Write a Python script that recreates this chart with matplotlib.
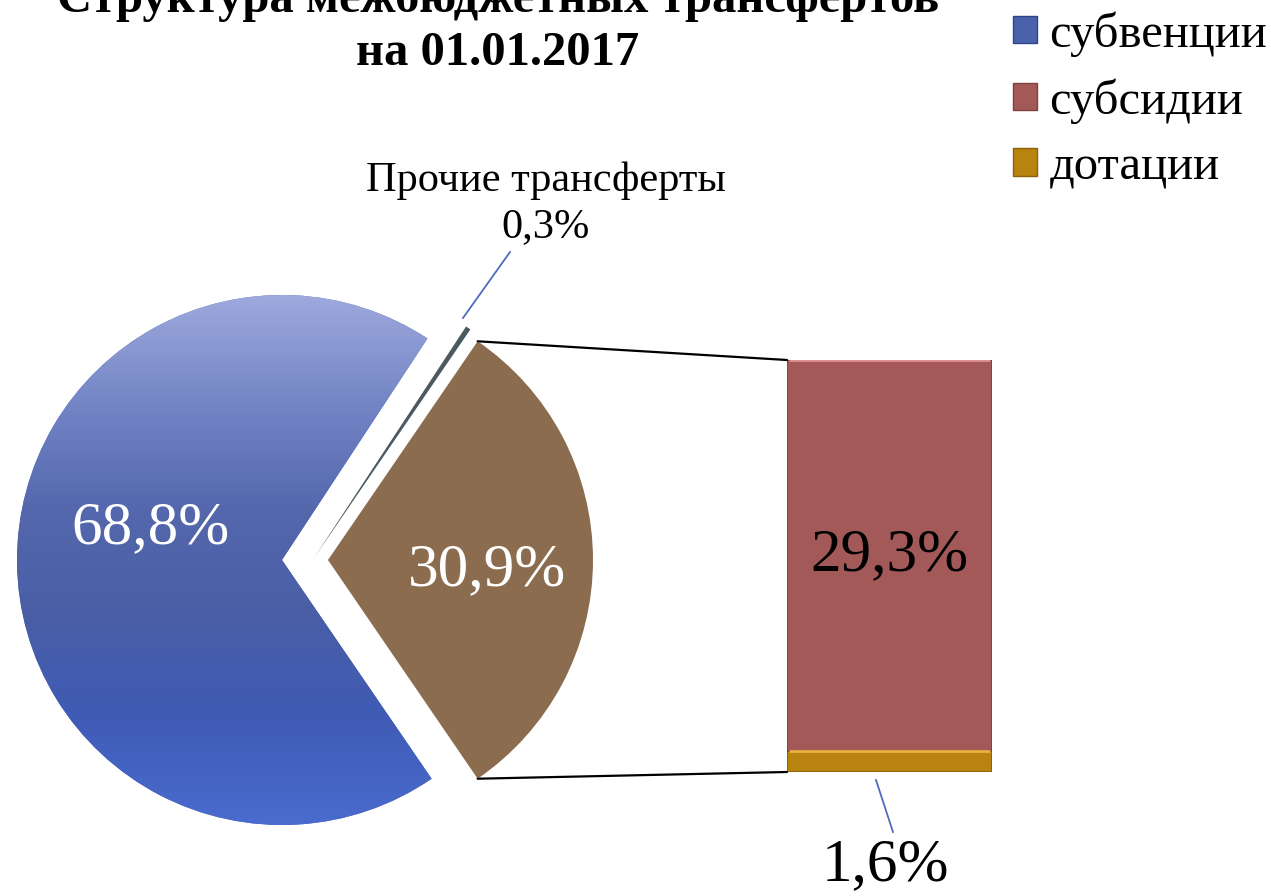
import matplotlib
matplotlib.use("Agg")
from matplotlib import pyplot as plt
from matplotlib.patches import Patch, ConnectionPatch
from matplotlib.colors import LinearSegmentedColormap
import numpy as np

plt.rcParams['font.family'] = ['Liberation Serif', 'DejaVu Serif']

# data
pie_labels = ['другие', 'Прочие трансферты', 'субвенции']
pie_values = [30.9, 0.3, 68.8]
bar_labels = ['дотации', 'субсидии']
bar_values = [1.6, 29.3]
legend_labels = ['субвенции', 'субсидии', 'дотации']

title_line1 = 'Структура межбюджетных трансфертов'
title_line2 = 'на 01.01.2017'


def pct(v):
    return f"{v:.1f}%".replace('.', ',')


W, H = 1271, 896
fig = plt.figure(figsize=(W / 100, H / 100), dpi=100)
ax = fig.add_axes([0, 0, 1, 1])

cx, cy, r = 282, 336, 265
start = -pie_values[0] / 100 * 360 / 2
wedges, _ = ax.pie(pie_values, startangle=start, counterclock=True,
                   explode=[46, 0, 0], radius=r, center=(cx, cy),
                   colors=['#8b6c4e', '#4b5a62', '#5a6fb8'],
                   wedgeprops=dict(linewidth=0), frame=True)
# the small slice is pulled out sideways, between the blue and brown slices
wedges[1].set_center((cx + 32, cy + 2))
wedges[1].set_radius(r + 12)

# vertical gradient on the blue slice (light at top, dark lower down)
cmap = LinearSegmentedColormap.from_list(
    'bl', ['#9ea9dd', '#7486c6', '#5568ad', '#4a5ea6', '#3f5bb5', '#4a6ccf'])
grad = np.linspace(0, 1, 256).reshape(-1, 1)
img = ax.imshow(grad, cmap=cmap, extent=[cx - r, cx + r, cy - r, cy + r],
                origin='upper', aspect='auto', zorder=wedges[2].get_zorder() + 0.1)
img.set_clip_path(wedges[2])

ax.set_xlim(0, W)
ax.set_ylim(0, H)
ax.set_aspect('equal')
ax.axis('off')

# slice labels
ax.text(150, H - 528, pct(pie_values[2]), color='white', fontsize=44,
        ha='center', va='center', zorder=5)
ax.text(487, H - 570, pct(pie_values[0]), color='white', fontsize=44,
        ha='center', va='center', zorder=5)
ax.text(546, H - 204, pie_labels[1] + '\n' + pct(pie_values[1]),
        fontsize=30.5, ha='center', va='center', linespacing=1.25, zorder=5)
ax.plot([463, 510], [H - 318, H - 252], color='#4f6bbd', lw=1.3)

# bar of the "other" slice
bx0, bx1, by0, by1 = 787, 992, H - 772, H - 360
bax = fig.add_axes([bx0 / W, by0 / H, (bx1 - bx0) / W, (by1 - by0) / H])
bax.set_xlim(-0.5, 0.5)
bax.set_ylim(0, sum(bar_values))
bax.axis('off')
bottom = 0
bar_colors = ['#b9830f', '#a45959']
edge_colors = ['#8a6008', '#7e4040']
top_colors = ['#e8b040', '#e09090']
for v, c, ec, tc in zip(bar_values, bar_colors, edge_colors, top_colors):
    bax.bar(0, v, bottom=bottom, width=1, color=c, edgecolor=ec, lw=1.2)
    bax.plot([-0.49, 0.49], [bottom + v, bottom + v], color=tc, lw=2,
             solid_capstyle='butt')
    bottom += v
bax.text(0, bar_values[0] + bar_values[1] / 2, pct(bar_values[1]),
         fontsize=44, ha='center', va='center')
ax.text(885, H - 865, pct(bar_values[0]), fontsize=44, ha='center', va='center')
ax.plot([876, 893], [H - 780, H - 832], color='#4f6bbd', lw=1.3)

# connector lines
t1 = np.deg2rad(start + pie_values[0] / 100 * 360)
t0 = np.deg2rad(start)
bcx = cx + 46
for t, yb in [(t1, sum(bar_values)), (t0, 0)]:
    con = ConnectionPatch(xyA=(bcx + r * np.cos(t), cy + r * np.sin(t)), coordsA=ax.transData,
                          xyB=(-0.5, yb), coordsB=bax.transData, color='black', lw=1.6)
    fig.add_artist(con)

# title (first line partly outside the picture, as in the original)
fig.text(498 / W, 1 - 12 / H, title_line1, fontsize=35, fontweight='bold',
         ha='center', va='baseline')
fig.text(498 / W, 1 - 65 / H, title_line2, fontsize=35, fontweight='bold',
         ha='center', va='baseline')

# legend
handles = [Patch(facecolor='#4a62ac', edgecolor='#2e4585'),
           Patch(facecolor='#a45959', edgecolor='#7e4040'),
           Patch(facecolor='#b9830f', edgecolor='#8a6008')]
fig.legend(handles, legend_labels, loc='upper right', bbox_to_anchor=(1.02, 1.02),
           frameon=False, fontsize=35, handlelength=0.5, handleheight=0.5,
           handletextpad=0.25, labelspacing=0.44, borderaxespad=0.2)

fig.savefig('out.png', dpi=100)
